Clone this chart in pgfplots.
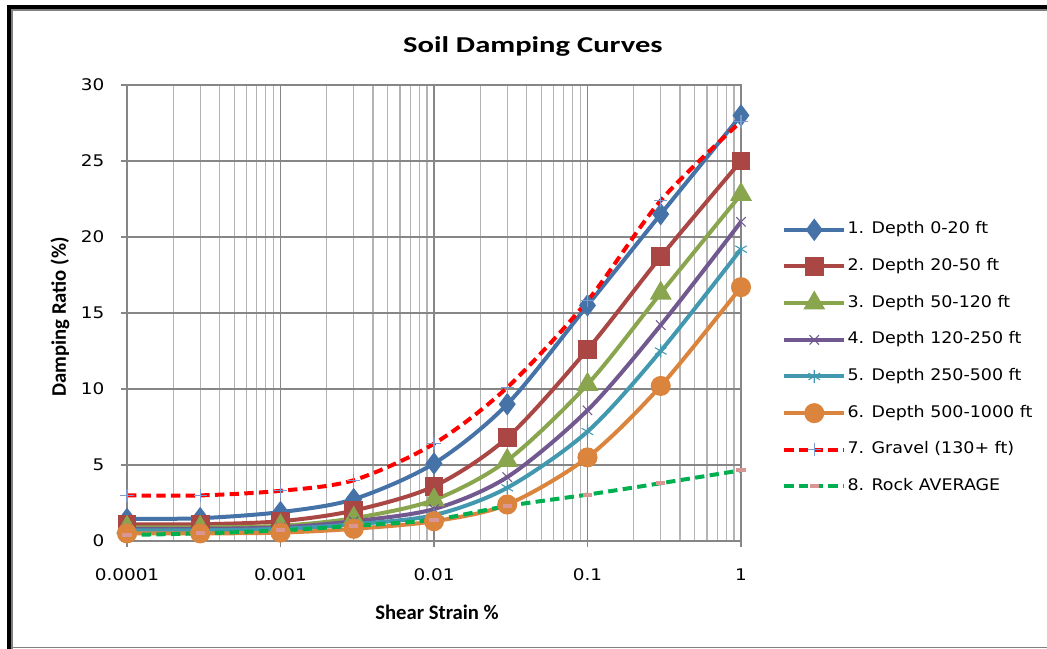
\documentclass[border=0pt]{standalone}
\usepackage{pgfplots}
\pgfplotsset{compat=1.18}
\usepackage{fontspec}
\setmainfont{DejaVu Sans}
\newfontfamily\calib{Carlito}
\usetikzlibrary{plotmarks}
\definecolor{sA}{HTML}{4572A7}
\definecolor{sB}{HTML}{AA4643}
\definecolor{sC}{HTML}{89A54E}
\definecolor{sD}{HTML}{71588F}
\definecolor{sE}{HTML}{4198AF}
\definecolor{sF}{HTML}{DB843D}
\definecolor{sG}{HTML}{FF0000}
\definecolor{sH}{HTML}{00B050}
\definecolor{plusc}{HTML}{7A9AD0}
\definecolor{pinkc}{HTML}{D99694}
\definecolor{gridmaj}{RGB}{134,134,134}
\definecolor{gridmin}{RGB}{180,180,180}
\newcommand\legtxt[1]{\scalebox{1.09}[1]{#1}}
\newcommand\tk[1]{\scalebox{1.15}[1]{#1}}
\begin{document}
\begin{tikzpicture}
\useasboundingbox (0,0) rectangle (785.25pt,486.75pt);
\fill[black] (5.25pt,0pt) rectangle (8.25pt,483pt);
\fill[black] (5.25pt,480pt) rectangle (785.25pt,483pt);
\fill[gray] (8.25pt,0pt) rectangle (9.75pt,480pt);
\fill[gray] (8.25pt,478.5pt) rectangle (785.25pt,480pt);
\fill[gray] (8.25pt,0.75pt) rectangle (785.25pt,1.5pt);
\begin{axis}[
  at={(95.25pt,81pt)}, anchor=south west,
  scale only axis, width=460.5pt, height=342pt,
  xmode=log, xmin=0.0001, xmax=1, ymin=0, ymax=30,
  ytick={0,5,...,30},
  yticklabels={\tk{0},\tk{5},\tk{10},\tk{15},\tk{20},\tk{25},\tk{30}},
  xtick={0.0001,0.001,0.01,0.1,1},
  xticklabels={\tk{0.0001},\tk{0.001},\tk{0.01},\tk{0.1},\tk{1}},
  ticklabel style={font=\fontsize{12}{14}\selectfont},
  xticklabel style={yshift=-13pt},
  yticklabel style={xshift=-9pt},
  grid=both,
  major grid style={gridmaj, line width=0.9pt},
  minor grid style={gridmin, line width=0.9pt},
  axis line style={gridmaj, line width=0.9pt},
  tick style={gridmaj, line width=0.9pt},
  tick align=outside,
  major tick length=4.5pt,
  minor tick length=0pt,
  xtick pos=bottom, ytick pos=left,
  title={\calib\bfseries\fontsize{17}{20}\selectfont\scalebox{1.35}[1]{Soil Damping Curves}},
  title style={at={(axis description cs:0.661,1.068)}, anchor=center},
  xlabel={\calib\bfseries\fontsize{15.5}{18}\selectfont Shear Strain \%},
  xlabel style={at={(axis description cs:0.505,-0.156)}, anchor=center},
  ylabel={\calib\bfseries\fontsize{15.5}{18}\selectfont Damping Ratio (\%)},
  ylabel style={at={(axis description cs:-0.109,0.491)}, anchor=center},
  legend style={draw=none, fill=none, at={(1.0668,0.401)}, anchor=west, inner sep=0pt,
    font=\fontsize{12}{14}\selectfont, row sep=13.5pt, column sep=0pt,
    nodes={inner sep=1pt, text height=9pt, text depth=3pt}},
  legend cell align=left,
  legend image code/.code={
    \draw[mark repeat=2,mark phase=2,#1] plot coordinates {(0pt,0pt) (22.5pt,0pt) (45pt,0pt)};},
  every axis plot/.append style={line width=3pt},
]
\addplot[sA, smooth, mark=diamond*, mark size=6pt, mark options={solid}] coordinates {
(0.0001,1.45) (0.0003,1.5) (0.001,1.9) (0.003,2.75) (0.01,5.1) (0.03,9.0) (0.1,15.5) (0.3,21.5) (1,28.0)};
\addlegendentry{\legtxt{1. Depth 0-20 ft}}
\addplot[sB, smooth, mark=square*, mark size=5.5pt, mark options={solid}] coordinates {
(0.0001,1.1) (0.0003,1.1) (0.001,1.3) (0.003,2.0) (0.01,3.6) (0.03,6.8) (0.1,12.6) (0.3,18.7) (1,25.0)};
\addlegendentry{\legtxt{2. Depth 20-50 ft}}
\addplot[sC, smooth, mark=triangle*, mark size=6.5pt, mark options={solid}] coordinates {
(0.0001,0.9) (0.0003,0.9) (0.001,1.0) (0.003,1.5) (0.01,2.7) (0.03,5.3) (0.1,10.3) (0.3,16.3) (1,22.8)};
\addlegendentry{\legtxt{3. Depth 50-120 ft}}
\addplot[sD, smooth, mark=x, mark size=5pt, mark options={solid, line width=0.8pt}] coordinates {
(0.0001,0.8) (0.0003,0.8) (0.001,0.9) (0.003,1.3) (0.01,2.1) (0.03,4.2) (0.1,8.6) (0.3,14.2) (1,21.0)};
\addlegendentry{\legtxt{4. Depth 120-250 ft}}
\addplot[sE, smooth, mark=asterisk, mark size=5pt, mark options={solid, line width=0.8pt}] coordinates {
(0.0001,0.7) (0.0003,0.7) (0.001,0.8) (0.003,1.1) (0.01,1.7) (0.03,3.5) (0.1,7.2) (0.3,12.5) (1,19.2)};
\addlegendentry{\legtxt{5. Depth 250-500 ft}}
\addplot[sF, smooth, mark=*, mark size=6pt, mark options={solid}] coordinates {
(0.0001,0.5) (0.0003,0.5) (0.001,0.55) (0.003,0.8) (0.01,1.3) (0.03,2.4) (0.1,5.5) (0.3,10.2) (1,16.7)};
\addlegendentry{\legtxt{6. Depth 500-1000 ft}}
\addplot[sG, smooth, dash pattern=on 7pt off 4pt, mark=+, mark size=5pt, mark options={solid, plusc, line width=0.8pt}] coordinates {
(0.0001,3.0) (0.0003,3.0) (0.001,3.3) (0.003,4.0) (0.01,6.4) (0.03,10.1) (0.1,15.8) (0.3,22.4) (1,27.6)};
\addlegendentry{\legtxt{7. Gravel (130+ ft)}}
\addplot[sH, smooth, dash pattern=on 7pt off 4pt, mark=-, mark size=3.5pt, mark options={solid, pinkc, line width=3pt}] coordinates {
(0.0001,0.4) (0.0003,0.5) (0.001,0.7) (0.003,1.0) (0.01,1.4) (0.03,2.3) (0.1,3.05) (0.3,3.8) (1,4.65)};
\addlegendentry{\legtxt{8. Rock AVERAGE}}
\end{axis}
\end{tikzpicture}
\end{document}
